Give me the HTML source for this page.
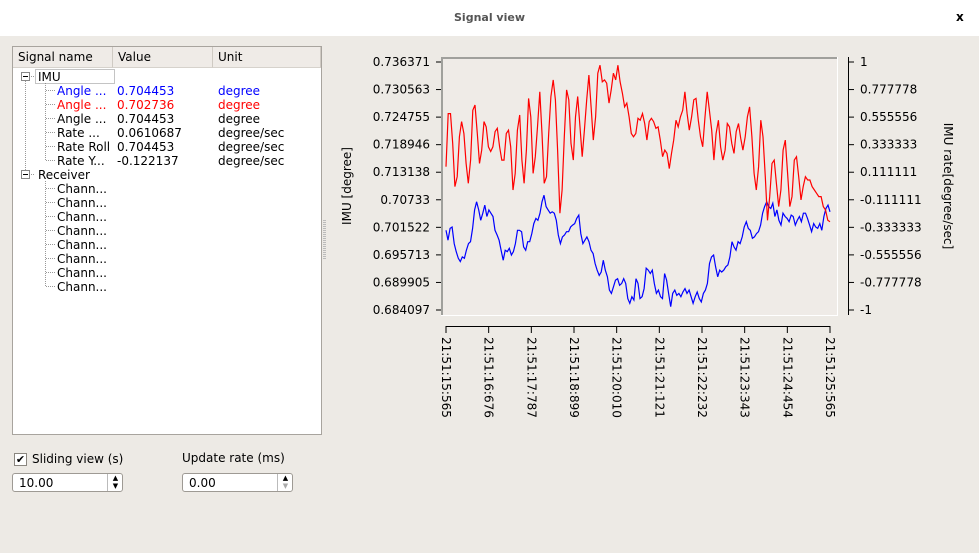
<!DOCTYPE html>
<html><head><meta charset="utf-8"><style>
body{margin:0;width:979px;height:553px;background:#edeae5;font-family:"DejaVu Sans","Liberation Sans",sans-serif;font-size:12px;position:relative;overflow:hidden;color:#000}
.abs{position:absolute}
#titlebar{left:0;top:0;width:979px;height:36px;background:#fff}
#tree{left:12px;top:46px;width:308px;height:387px;background:#fff;border:1px solid #a8a49e}
.hdr{position:absolute;top:0;height:21px;background:#efebe7;border-bottom:1px solid #d6d2cc;line-height:21px;padding-left:5px;box-sizing:border-box;border-right:1px solid #cfcac3}
.row{position:absolute;height:14px;line-height:14px;white-space:nowrap}
.spin{background:#fff;border:1px solid #9e9a94;border-radius:3px;height:19px;box-sizing:border-box}
</style></head><body>
<div class="abs" id="titlebar">
 <div class="abs" style="left:0;width:979px;top:11px;text-align:center;font-size:11px;font-weight:bold;color:#555">Signal view</div>
 <div class="abs" style="left:956px;top:10px;font-size:12px;font-weight:bold">x</div>
</div>
<div class="abs" id="tree">
 <div class="hdr" style="left:0;width:100px">Signal name</div>
 <div class="hdr" style="left:100px;width:100px">Value</div>
 <div class="hdr" style="left:200px;width:108px">Unit</div>
 <svg class="abs" style="left:0;top:0" width="308" height="387">
  <g stroke="#999" stroke-dasharray="1,1" fill="none">
   <line x1="12.5" y1="34" x2="12.5" y2="128"/>
   <line x1="32.5" y1="36" x2="32.5" y2="113"/>
   <line x1="32.5" y1="134" x2="32.5" y2="240"/>
   <line x1="18" y1="29.5" x2="22" y2="29.5"/><line x1="18" y1="127.5" x2="22" y2="127.5"/>
  </g>
  <g stroke="#999" stroke-dasharray="1,1">
   <line x1="33" y1="43.5" x2="42" y2="43.5"/><line x1="33" y1="57.5" x2="42" y2="57.5"/><line x1="33" y1="71.5" x2="42" y2="71.5"/><line x1="33" y1="85.5" x2="42" y2="85.5"/><line x1="33" y1="99.5" x2="42" y2="99.5"/><line x1="33" y1="113.5" x2="42" y2="113.5"/>
   <line x1="33" y1="141.5" x2="42" y2="141.5"/><line x1="33" y1="155.5" x2="42" y2="155.5"/><line x1="33" y1="169.5" x2="42" y2="169.5"/><line x1="33" y1="183.5" x2="42" y2="183.5"/><line x1="33" y1="197.5" x2="42" y2="197.5"/><line x1="33" y1="211.5" x2="42" y2="211.5"/><line x1="33" y1="225.5" x2="42" y2="225.5"/><line x1="33" y1="239.5" x2="42" y2="239.5"/>
  </g>
  <rect x="22.5" y="22.5" width="79" height="14" fill="none" stroke="#888" stroke-dasharray="1,1"/>
  <g fill="#fff" stroke="#888"><rect x="8.5" y="25.5" width="8" height="8"/><rect x="8.5" y="123.5" width="8" height="8"/></g>
  <g stroke="#000"><line x1="10" y1="29.5" x2="15" y2="29.5"/><line x1="10" y1="127.5" x2="15" y2="127.5"/></g>
 </svg>
 <div class="row" style="left:25px;top:23px">IMU</div>
 <div class="row" style="left:44px;top:37px;color:#00f">Angle ...</div><div class="row" style="left:104px;top:37px;color:#00f">0.704453</div><div class="row" style="left:205px;top:37px;color:#00f">degree</div>
 <div class="row" style="left:44px;top:51px;color:#f00">Angle ...</div><div class="row" style="left:104px;top:51px;color:#f00">0.702736</div><div class="row" style="left:205px;top:51px;color:#f00">degree</div>
 <div class="row" style="left:44px;top:65px">Angle ...</div><div class="row" style="left:104px;top:65px">0.704453</div><div class="row" style="left:205px;top:65px">degree</div>
 <div class="row" style="left:44px;top:79px">Rate ...</div><div class="row" style="left:104px;top:79px">0.0610687</div><div class="row" style="left:205px;top:79px">degree/sec</div>
 <div class="row" style="left:44px;top:93px">Rate Roll</div><div class="row" style="left:104px;top:93px">0.704453</div><div class="row" style="left:205px;top:93px">degree/sec</div>
 <div class="row" style="left:44px;top:107px">Rate Y...</div><div class="row" style="left:104px;top:107px">-0.122137</div><div class="row" style="left:205px;top:107px">degree/sec</div>
 <div class="row" style="left:25px;top:121px">Receiver</div>
 <div class="row" style="left:44px;top:135px">Chann...</div>
 <div class="row" style="left:44px;top:149px">Chann...</div>
 <div class="row" style="left:44px;top:163px">Chann...</div>
 <div class="row" style="left:44px;top:177px">Chann...</div>
 <div class="row" style="left:44px;top:191px">Chann...</div>
 <div class="row" style="left:44px;top:205px">Chann...</div>
 <div class="row" style="left:44px;top:219px">Chann...</div>
 <div class="row" style="left:44px;top:233px">Chann...</div>
</div>
<div class="abs" style="left:323px;top:220px;width:3px;height:40px;background:repeating-linear-gradient(#bbb 0 1px,transparent 1px 2px)"></div>

<div class="abs" style="left:14px;top:453px;width:11px;height:11px;border:1px solid #8a867f;background:#fff;font-size:11px;line-height:11px;text-align:center">✔</div>
<div class="abs" style="left:32px;top:452px">Sliding view (s)</div>
<div class="abs spin" style="left:12px;top:473px;width:111px"><span style="position:absolute;left:6px;top:2px">10.00</span><span style="position:absolute;left:94px;top:0;width:15px;height:17px;border-left:1px solid #bbb;font-size:7px;line-height:8px;text-align:center">▲<br>▼</span></div>
<div class="abs" style="left:182px;top:451px">Update rate (ms)</div>
<div class="abs spin" style="left:182px;top:473px;width:111px"><span style="position:absolute;left:6px;top:2px">0.00</span><span style="position:absolute;left:94px;top:0;width:15px;height:17px;border-left:1px solid #bbb;font-size:7px;line-height:8px;text-align:center">▲<br><span style="color:#aaa">▼</span></span></div>

<svg class="abs" id="chart" style="left:0;top:0" width="979" height="553"></svg>
<script>
const leftTicks=["0.736371","0.730563","0.724755","0.718946","0.713138","0.70733","0.701522","0.695713","0.689905","0.684097"];
const rightTicks=["1","0.777778","0.555556","0.333333","0.111111","-0.111111","-0.333333","-0.555556","-0.777778","-1"];
const timeTicks=["21:51:15:565","21:51:16:676","21:51:17:787","21:51:18:899","21:51:20:010","21:51:21:121","21:51:22:232","21:51:23:343","21:51:24:454","21:51:25:565"];
const tStart=0, tEnd=10;
const redValues=[0.7143,0.7255,0.7255,0.7192,0.7101,0.7122,0.7206,0.7238,0.7213,0.7150,0.7108,0.7157,0.7262,0.7273,0.7213,0.7150,0.7178,0.7238,0.7227,0.7185,0.7175,0.7185,0.7217,0.7224,0.7185,0.7157,0.7157,0.7213,0.7220,0.7185,0.7094,0.7129,0.7220,0.7252,0.7157,0.7108,0.7178,0.7287,0.7248,0.7129,0.7164,0.7227,0.7301,0.7213,0.7108,0.7122,0.7213,0.7291,0.7326,0.7284,0.7178,0.7045,0.7094,0.7206,0.7305,0.7284,0.7192,0.7157,0.7248,0.7291,0.7227,0.7164,0.7220,0.7284,0.7336,0.7269,0.7199,0.7248,0.7340,0.7357,0.7322,0.7326,0.7319,0.7277,0.7305,0.7340,0.7326,0.7357,0.7322,0.7298,0.7269,0.7277,0.7248,0.7213,0.7206,0.7213,0.7245,0.7241,0.7255,0.7234,0.7199,0.7238,0.7245,0.7238,0.7224,0.7227,0.7199,0.7164,0.7178,0.7171,0.7139,0.7171,0.7199,0.7241,0.7227,0.7248,0.7262,0.7301,0.7255,0.7220,0.7248,0.7284,0.7287,0.7241,0.7206,0.7185,0.7248,0.7301,0.7262,0.7220,0.7157,0.7213,0.7241,0.7185,0.7157,0.7178,0.7234,0.7227,0.7192,0.7171,0.7217,0.7234,0.7203,0.7178,0.7206,0.7248,0.7269,0.7206,0.7129,0.7094,0.7143,0.7241,0.7206,0.7122,0.7030,0.7080,0.7150,0.7157,0.7108,0.7059,0.7094,0.7178,0.7199,0.7129,0.7059,0.7080,0.7157,0.7164,0.7122,0.7073,0.7101,0.7122,0.7115,0.7115,0.7101,0.7094,0.7087,0.7080,0.7080,0.7059,0.7052,0.7030,0.7027];
const blueValues=[0.7009,0.6988,0.7013,0.7016,0.6981,0.6964,0.6950,0.6943,0.6953,0.6950,0.6967,0.6981,0.6985,0.7013,0.7052,0.7069,0.7052,0.7030,0.7045,0.7062,0.7038,0.7052,0.7045,0.7038,0.7009,0.6999,0.6988,0.6967,0.6946,0.6967,0.6964,0.6971,0.6957,0.6964,0.6981,0.7009,0.7009,0.7006,0.6974,0.6967,0.6985,0.6985,0.7002,0.7023,0.7034,0.7030,0.7045,0.7069,0.7083,0.7059,0.7052,0.7045,0.7048,0.7045,0.7030,0.6999,0.6981,0.6995,0.6999,0.7006,0.7006,0.7016,0.7020,0.7023,0.7034,0.7041,0.7002,0.6981,0.6988,0.6995,0.6985,0.6967,0.6960,0.6939,0.6925,0.6914,0.6921,0.6946,0.6925,0.6911,0.6883,0.6876,0.6890,0.6904,0.6907,0.6893,0.6897,0.6907,0.6897,0.6865,0.6855,0.6869,0.6862,0.6907,0.6897,0.6865,0.6869,0.6886,0.6929,0.6925,0.6918,0.6925,0.6897,0.6876,0.6883,0.6869,0.6865,0.6918,0.6904,0.6876,0.6848,0.6876,0.6883,0.6872,0.6876,0.6869,0.6879,0.6886,0.6876,0.6883,0.6869,0.6855,0.6869,0.6879,0.6865,0.6858,0.6876,0.6883,0.6897,0.6939,0.6953,0.6957,0.6932,0.6911,0.6925,0.6921,0.6925,0.6932,0.6936,0.6953,0.6985,0.6974,0.6967,0.6985,0.6981,0.6995,0.7016,0.7027,0.7013,0.7009,0.6992,0.6995,0.7002,0.7006,0.7020,0.7045,0.7059,0.7069,0.7059,0.7055,0.7066,0.7038,0.7052,0.7030,0.7020,0.7045,0.7038,0.7034,0.7027,0.7041,0.7038,0.7020,0.7030,0.7038,0.7027,0.7045,0.7045,0.7034,0.7020,0.7006,0.7023,0.7016,0.7013,0.7023,0.7009,0.7038,0.7055,0.7062,0.7048];

const NS="http://www.w3.org/2000/svg";
const svg=document.getElementById('chart');
const yMax=0.736371,yMin=0.684097,yTop=62,yBot=310;
const xL=446,xR=830;
function yScale(v){return yBot-(v-yMin)/(yMax-yMin)*(yBot-yTop);}
function xScale(t){return xL+(t-tStart)/(tEnd-tStart)*(xR-xL);}
function mk(tag,attrs){const e=document.createElementNS(NS,tag);for(const k in attrs)e.setAttribute(k,attrs[k]);svg.appendChild(e);return e;}

const bg=mk('rect',{x:441,y:57,width:396,height:258,fill:'#efebe7'});


const fr=mk('path',{d:'M442,315 V58 H837',fill:'none',stroke:'#a0a09c','stroke-width':2});


mk('path',{d:'M441,315.5 H837.5 V57',fill:'none',stroke:'#fff','stroke-width':1});

// left axis
leftTicks.forEach((lab,i)=>{
  const y=yTop+i*(yBot-yTop)/(leftTicks.length-1);
  mk('line',{x1:436,x2:441,y1:y,y2:y,stroke:'#000'});
  const t=mk('text',{x:430,y:y+4,'text-anchor':'end','font-size':12,'font-family':'DejaVu Sans, Liberation Sans, sans-serif'});
  t.textContent=lab;
  
  
});
const lt=mk('text',{transform:'translate(351,186) rotate(-90)','text-anchor':'middle','font-size':12,'font-family':'DejaVu Sans, Liberation Sans, sans-serif'});
lt.textContent='IMU [degree]';



// right axis
mk('line',{x1:848.5,x2:848.5,y1:57,y2:315,stroke:'#000'});
rightTicks.forEach((lab,i)=>{
  const y=yTop+i*(yBot-yTop)/(rightTicks.length-1);
  mk('line',{x1:848,x2:854,y1:y,y2:y,stroke:'#000'});
  const t=mk('text',{x:860,y:y+4,'font-size':12,'font-family':'DejaVu Sans, Liberation Sans, sans-serif'});
  t.textContent=lab;
  
  
});
const rt=mk('text',{transform:'translate(944,186) rotate(90)','text-anchor':'middle','font-size':12,'font-family':'DejaVu Sans, Liberation Sans, sans-serif'});
rt.textContent='IMU rate[degree/sec]';



// x axis
mk('line',{x1:446,x2:830,y1:326.5,y2:326.5,stroke:'#000'});
timeTicks.forEach((lab,i)=>{
  const x=xScale(tStart+i*(tEnd-tStart)/(timeTicks.length-1));
  mk('line',{x1:x,x2:x,y1:326,y2:333,stroke:'#000'});
  const t=mk('text',{transform:`translate(${x-4},337) rotate(90)`,'font-size':12,'font-family':'DejaVu Sans, Liberation Sans, sans-serif'});
  t.textContent=lab;
  
  
});

function drawSeries(vals,color,name){
  const n=vals.length;
  const pts=vals.map((v,i)=>xScale(tStart+i*(tEnd-tStart)/(n-1)).toFixed(1)+','+yScale(v).toFixed(1)).join(' ');
  const p=mk('polyline',{points:pts,fill:'none',stroke:color,'stroke-width':1.2});
  
  
}
drawSeries(blueValues,'#0000ff','series-angle-blue');
drawSeries(redValues,'#ff0000','series-angle-red');
</script>
</body></html>
